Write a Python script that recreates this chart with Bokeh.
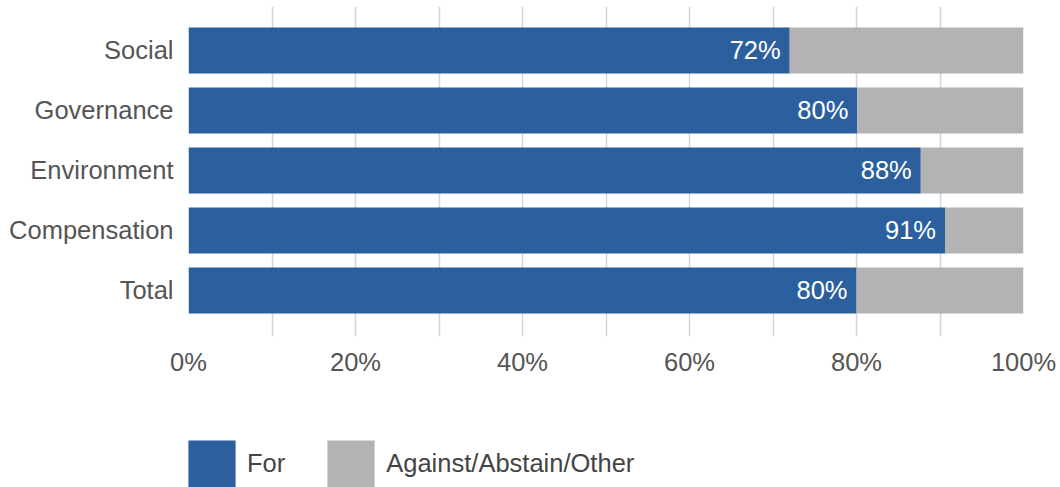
from bokeh.plotting import figure
from bokeh.layouts import column
from bokeh.models import (Range1d, FixedTicker, PrintfTickFormatter, ColumnDataSource,
                          Legend, LegendItem)
from bokeh.core.properties import value
from bokeh.embed import file_html
from bokeh.resources import INLINE

categories = ["Social", "Governance", "Environment", "Compensation", "Total"]
for_values = [72.0, 80.1, 87.7, 90.6, 80.0]
for_labels = ["72%", "80%", "88%", "91%", "80%"]
x_ticks = [0, 20, 40, 60, 80, 100]
series_names = ["For", "Against/Abstain/Other"]

BLUE = "#2C5F9E"
GRAY = "#B3B3B3"
FONT = "Liberation Sans"
FS = "25.5px"

ypos = [len(categories) - 1 - i for i in range(len(categories))]
src = ColumnDataSource(dict(
    y=ypos,
    f=for_values,
    full=[100] * len(categories),
    lab=for_labels,
))

p = figure(width=1060, height=400, output_backend="svg", toolbar_location=None,
           x_range=Range1d(0, 100), y_range=Range1d(-0.767, 4.733),
           min_border_left=188, min_border_right=37, min_border_top=6,
           min_border_bottom=64)
p.outline_line_color = None
p.background_fill_color = "white"

r_for = p.hbar(y="y", left=0, right="f", height=0.767, source=src,
               fill_color=BLUE, line_color=None)
r_oth = p.hbar(y="y", left="f", right="full", height=0.767, source=src,
               fill_color=GRAY, line_color=None)

p.text(x="f", y="y", text="lab", source=src, x_offset=-9,
       text_align="right", text_baseline="middle", text_color="white",
       text_font=value(FONT), text_font_size=FS)

# grid
p.ygrid.grid_line_color = None
p.xgrid.ticker = FixedTicker(ticks=list(range(0, 101, 10)))
p.xgrid.grid_line_color = "#D4D4D4"
p.xgrid.grid_line_width = 1.5

# x axis
p.xaxis.ticker = FixedTicker(ticks=x_ticks)
p.xaxis.formatter = PrintfTickFormatter(format="%d%%")
p.xaxis.axis_line_color = None
p.xaxis.major_tick_line_color = None
p.xaxis.major_tick_out = 0
p.xaxis.major_tick_in = 0
p.xaxis.minor_tick_line_color = None
p.xaxis.minor_tick_out = 0
p.xaxis.major_label_text_font = FONT
p.xaxis.major_label_text_font_size = FS
p.xaxis.major_label_text_color = "#555555"
p.xaxis.major_label_standoff = 11

# y axis
p.yaxis.ticker = FixedTicker(ticks=ypos)
p.yaxis.major_label_overrides = {yp: c for yp, c in zip(ypos, categories)}
p.yaxis.axis_line_color = None
p.yaxis.major_tick_line_color = None
p.yaxis.major_tick_out = 0
p.yaxis.major_tick_in = 0
p.yaxis.minor_tick_line_color = None
p.yaxis.minor_tick_out = 0
p.yaxis.major_label_text_font = FONT
p.yaxis.major_label_text_font_size = FS
p.yaxis.major_label_text_color = "#555555"
p.yaxis.major_label_standoff = 15

# legend in its own strip below the chart (its ranges keep the bars out of view)
lg = figure(width=1060, height=87, output_backend="svg", toolbar_location=None,
            x_range=Range1d(0, 100), y_range=Range1d(10, 11),
            x_axis_type=None, y_axis_type=None,
            min_border_left=0, min_border_right=0, min_border_top=0,
            min_border_bottom=0)
lg.outline_line_color = None
lg.grid.visible = False
k_for = lg.hbar(y="y", left=0, right="f", height=0.767, source=src,
                fill_color=BLUE, line_color=None)
k_oth = lg.hbar(y="y", left="f", right="full", height=0.767, source=src,
                fill_color=GRAY, line_color=None)

legend = Legend(items=[LegendItem(label=series_names[0], renderers=[k_for]),
                       LegendItem(label=series_names[1], renderers=[k_oth])],
                orientation="horizontal", location=(-6, -6),
                glyph_width=59, glyph_height=59, label_standoff=6,
                spacing=36, padding=0, margin=0,
                border_line_color=None, background_fill_alpha=0,
                label_text_font=FONT, label_text_font_size=FS,
                label_text_color="#444444")
lg.add_layout(legend, "center")

layout = column(p, lg, spacing=0)
open("out.html", "w").write(file_html(layout, INLINE))
